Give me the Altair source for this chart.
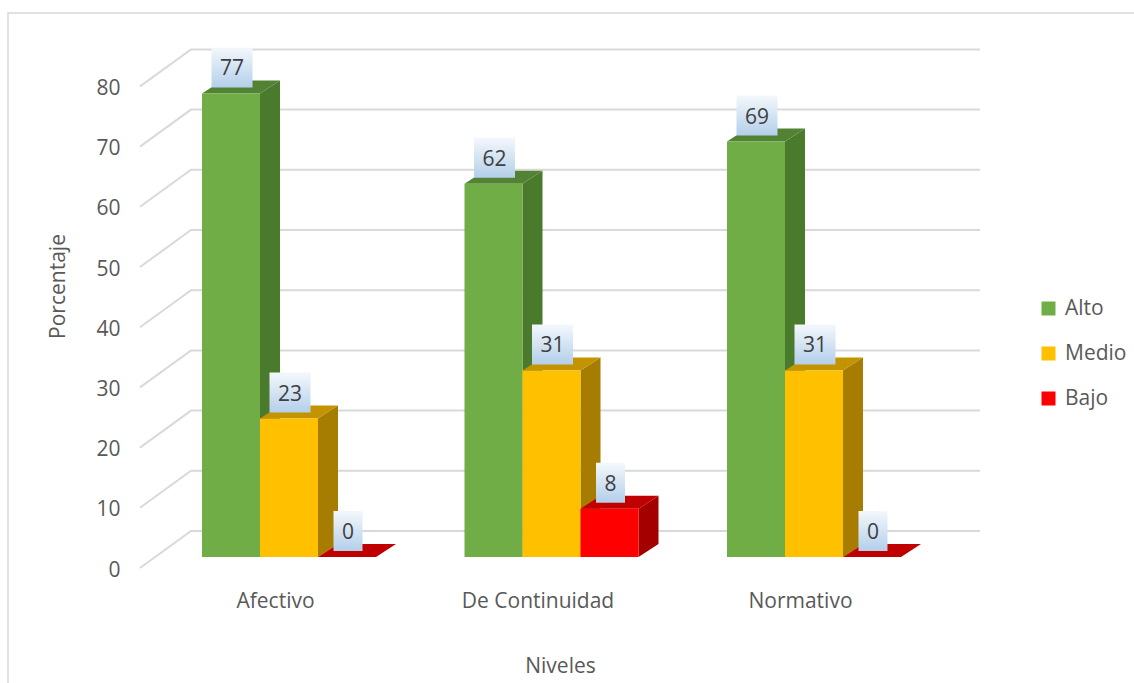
import altair as alt
import pandas as pd

# ---------------- data ----------------
categories = ["Afectivo", "De Continuidad", "Normativo"]
series = ["Alto", "Medio", "Bajo"]
alto = [77, 62, 69]
medio = [23, 31, 31]
bajo = [0, 8, 0]
y_ticks = [0, 10, 20, 30, 40, 50, 60, 70, 80]

# ---------------- styles ----------------
front_colors = ["#70AD47", "#FFC000", "#FF0000"]
side_colors = ["#4A7A2C", "#A67D00", "#A50000"]
top_colors = ["#548235", "#C49300", "#C00000"]
FONT = "Open Sans"

# ---------------- layout (plot units) ----------------
W, H = 840, 538
PX = 6.02                 # pixels per percentage point
YMAX = H / PX
X0, GROUP, BAR = 62, 262.5, 58
FRONT = 11 / PX           # bar front base above axis baseline
DX, DY = 20, 13 / PX      # bar depth
WALL_X, WALL_Y = 51, 37 / PX
LABEL_SHIFT = 73

values_by_series = [alto, medio, bajo]

front_rows, side_rows, top_rows, lab_rows = [], [], [], []
for i, cat in enumerate(categories):
    for j, s in enumerate(series):
        v = values_by_series[j][i]
        bid = f"{i}-{j}"
        xl = X0 + GROUP * i + BAR * j
        xr = xl + BAR
        b = FRONT
        front_rows.append(dict(cat=cat, series=s, x=xl, x2=xr, y=b, y2=b + v, v=v))
        side_rows += [
            dict(bid=bid, series=s, x=xr, y=b, y2=b + v),
            dict(bid=bid, series=s, x=xr + DX, y=b + DY, y2=b + v + DY),
        ]
        t = b + v
        top_rows += [
            dict(bid=bid, series=s, x=xl, y=t, y2=t),
            dict(bid=bid, series=s, x=xl + DX, y=t, y2=t + DY),
            dict(bid=bid, series=s, x=xr, y=t, y2=t + DY),
            dict(bid=bid, series=s, x=xr + DX, y=t + DY, y2=t + DY),
        ]
        txt = str(v)
        half = 14.5 if len(txt) == 1 else 20.5
        xc = xl + BAR / 2 + 1
        ybot = t + 6 / PX
        lab_rows.append(dict(x=xc - half, x2=xc + half, y=ybot, y2=ybot + 40 / PX,
                             xc=xc, yt=ybot + 18 / PX, text=txt))

grid_rows = []
for tk in y_ticks:
    grid_rows += [
        dict(tick=tk, order=0, x=0, y=tk),
        dict(tick=tk, order=1, x=WALL_X, y=tk + WALL_Y),
        dict(tick=tk, order=2, x=W, y=tk + WALL_Y),
    ]

front_df = pd.DataFrame(front_rows)
side_df = pd.DataFrame(side_rows)
top_df = pd.DataFrame(top_rows)
lab_df = pd.DataFrame(lab_rows)
grid_df = pd.DataFrame(grid_rows)

xs = alt.Scale(domain=[0, W], nice=False, zero=False)
ys = alt.Scale(domain=[0, YMAX], nice=False, zero=False)

cat_js = "[" + ",".join(f"'{c}'" for c in categories) + "]"
x_axis = alt.Axis(
    values=[X0 + GROUP * i + LABEL_SHIFT for i in range(len(categories))],
    labelExpr=f"{cat_js}[round((datum.value - {X0 + LABEL_SHIFT}) / {GROUP})]",
    title="Niveles", domain=False, ticks=False, grid=False,
    labelFontSize=21, labelColor="#595959", labelPadding=22,
    titleFontSize=21, titleColor="#595959", titleFontWeight="normal", titlePadding=44,
    labelFont=FONT, titleFont=FONT,
)
y_axis = alt.Axis(
    values=y_ticks, title="Porcentaje", domain=False, ticks=False, grid=False,
    labelFontSize=21, labelColor="#595959", labelPadding=20, labelOffset=2,
    titleFontSize=21, titleColor="#595959", titleFontWeight="normal",
    titleAngle=270, titleX=-82, titleY=256, titleAlign="center", titleBaseline="middle",
    labelFont=FONT, titleFont=FONT,
)


def X(field):
    return alt.X(field, scale=xs, axis=x_axis)


def Y(field):
    return alt.Y(field, scale=ys, axis=y_axis)


grid = alt.Chart(grid_df).mark_line(color="#D9D9D9", strokeWidth=2).encode(
    x=X("x:Q"), y=Y("y:Q"),
    detail="tick:N",
    order="order:Q",
)

sides = alt.Chart(side_df).mark_area(strokeWidth=0).encode(
    x=X("x:Q"), y=Y("y:Q"), y2="y2:Q",
    detail="bid:N",
    color=alt.Color("series:N", scale=alt.Scale(domain=series, range=side_colors), legend=None),
)

tops = alt.Chart(top_df).mark_area(strokeWidth=0).encode(
    x=X("x:Q"), y=Y("y:Q"), y2="y2:Q",
    detail="bid:N",
    color=alt.Color("series:N", scale=alt.Scale(domain=series, range=top_colors), legend=None),
)

fronts = alt.Chart(front_df).mark_rect(strokeWidth=0).encode(
    x=X("x:Q"), x2="x2:Q",
    y=Y("y:Q"), y2="y2:Q",
    color=alt.Color(
        "series:N",
        scale=alt.Scale(domain=series, range=front_colors),
        legend=alt.Legend(
            title=None, orient="none", legendX=898, legendY=268,
            symbolType="square", symbolSize=196, symbolStrokeWidth=0,
            labelFontSize=21, labelColor="#595959", labelFont=FONT,
            labelOffset=6, rowPadding=23,
        ),
    ),
)

boxes = alt.Chart(lab_df).mark_rect(
    color=alt.Gradient(
        gradient="linear",
        stops=[alt.GradientStop(color="#F4F8FC", offset=0),
               alt.GradientStop(color="#B3CFEA", offset=1)],
        x1=0, x2=0, y1=0, y2=1,
    )
).encode(
    x=X("x:Q"), x2="x2:Q",
    y=Y("y:Q"), y2="y2:Q",
)

texts = alt.Chart(lab_df).mark_text(
    fontSize=21, color="#404040", font=FONT, baseline="middle", align="center"
).encode(
    x=X("xc:Q"), y=Y("yt:Q"),
    text="text:N",
)

frame = alt.Chart(pd.DataFrame({"k": [0]})).mark_rect(
    fill=None, stroke="#D9D9D9", strokeWidth=1.5
).encode(
    x=alt.value(-132), x2=alt.value(1010),
    y=alt.value(-17), y2=alt.value(670),
)

chart = alt.layer(grid, sides, tops, fronts, boxes, texts, frame).resolve_scale(
    color="independent"
).properties(
    width=W, height=H,
    autosize=alt.AutoSizeParams(type="none"),
    padding={"left": 140, "top": 30, "right": 154, "bottom": 115},
).configure(
    font=FONT, background="white",
    view=alt.ViewConfig(strokeWidth=0, stroke="transparent"),
)

chart.save("out.html", embed_options={"renderer": "svg", "actions": False})
